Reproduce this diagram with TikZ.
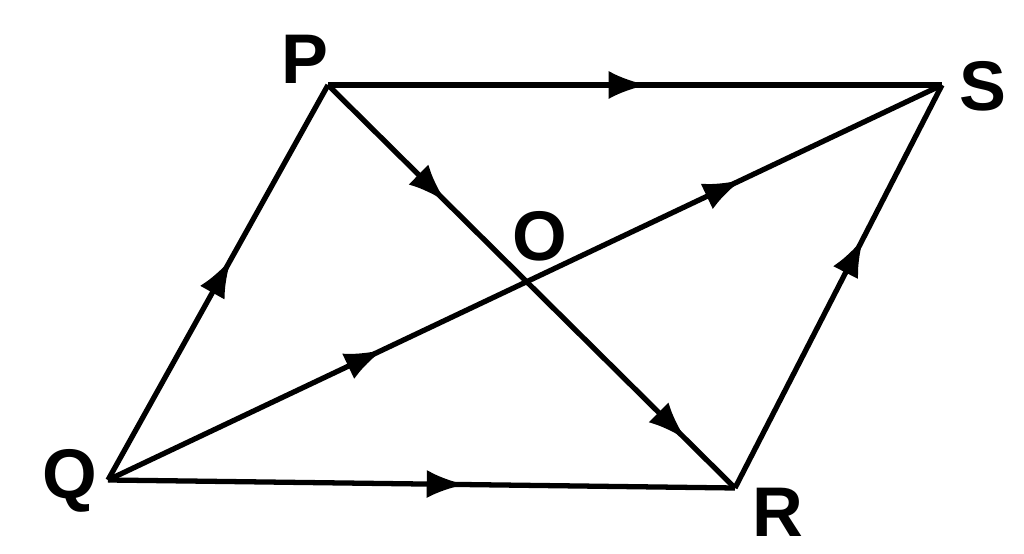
\documentclass[tikz,border=0pt]{standalone}
\usepackage{fontspec}
\setmainfont{Liberation Sans}
\usetikzlibrary{decorations.markings,arrows.meta}
\tikzset{
  side/.style={line width=1.5pt},
  mark at/.style={postaction={decorate,decoration={markings,
      mark=at position #1 with {\arrow{Latex[length=11pt,width=8pt]}}}}},
  lbl/.style={font=\fontsize{20}{22}\selectfont\bfseries}
}
\begin{document}
\begin{tikzpicture}
\useasboundingbox (0,0) rectangle (10.24,5.54);
\coordinate (P) at (3.28,4.69);
\coordinate (S) at (9.42,4.69);
\coordinate (Q) at (1.08,0.74);
\coordinate (R) at (7.35,0.66);
\draw [side, mark at=0.52] (P) -- (S);
\draw [side, mark at=0.56] (Q) -- (P);
\draw [side, mark at=0.57] (Q) -- (R);
\draw [side, mark at=0.62] (R) -- (S);
\draw [side, mark at=0.29, mark at=0.88] (P) -- (R);
\draw [side, mark at=0.33, mark at=0.76] (Q) -- (S);
\node [lbl] (lP) at (3.05,4.95) {P};
\node [lbl] (lS) at (9.83,4.68) {S};
\node [lbl] (lQ) at (0.70,0.73) {Q};
\node [lbl] (lR) at (7.78,0.42) {R};
\node [lbl] (lO) at (5.40,3.18) {O};
\end{tikzpicture}
\end{document}
